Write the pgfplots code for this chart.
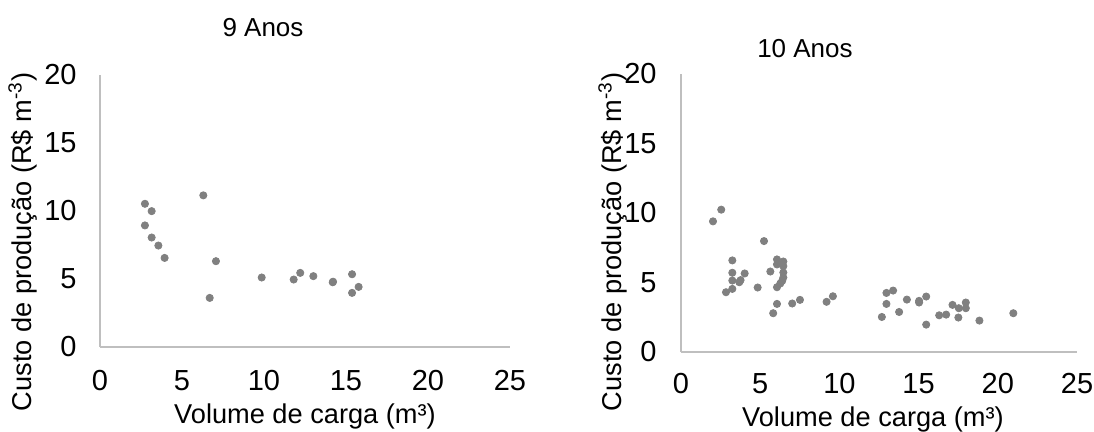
\documentclass[border=0pt]{standalone}
\usepackage{fontspec}
\setmainfont{Liberation Sans}
\usepackage{pgfplots}
\pgfplotsset{compat=1.18}
\definecolor{axgray}{RGB}{191,191,191}
\definecolor{ptgray}{RGB}{128,128,128}
\newcommand{\ff}{\fontsize{13bp}{15bp}\selectfont}
\newcommand{\lf}{\fontsize{13.6bp}{15bp}\selectfont}
\newcommand{\tf}{\fontsize{14.5bp}{16bp}\selectfont}
\pgfplotsset{
  myscatter/.style={
    scale only axis,
    axis lines*=left,
    axis line style={axgray, line width=0.75bp},
    xmin=0, xmax=25, ymin=0, ymax=20,
    xtick={0,5,10,15,20,25},
    ytick={0,5,10,15,20},
    major tick length=0pt,
    /pgf/number format/assume math mode=true,
    tick label style={font=\tf, black},
    label style={font=\lf},
    title style={font=\ff},
    clip=false,
  },
  pts/.style={only marks, mark=*, mark size=1.8bp, color=ptgray, mark options={draw=ptgray, fill=ptgray}},
}
\begin{document}
\begin{tikzpicture}
\useasboundingbox (-50bp,-42.5bp) rectangle (497bp,173.5bp);
\begin{axis}[myscatter,
  at={(0bp,0bp)}, anchor=south west,
  width=205bp, height=136bp,
  yticklabel style={anchor=east, inner sep=0pt, xshift=-11.5bp},
  xticklabel style={anchor=north, inner sep=0pt, yshift=-11.5bp},
  xlabel={Volume de carga (m³)},
  ylabel={Custo de produção (R\$ m\textsuperscript{-3})},
  xlabel style={at={(rel axis cs:0.5,-0.2537)}, anchor=center},
  ylabel style={at={(rel axis cs:-0.1878,0.386)}, anchor=center},
  title={9 Anos},
  title style={at={(rel axis cs:0.3976,1.176)}, anchor=center, yshift=-6pt},
]
\addplot[pts] coordinates {
(2.74,10.53) (3.15,9.99) (2.74,8.94) (3.15,8.05) (3.56,7.46) (3.94,6.55)
(6.30,11.15) (7.07,6.31) (6.69,3.61) (9.86,5.11) (11.81,4.96) (12.21,5.45)
(13.01,5.21) (14.19,4.76) (14.21,4.80) (15.37,5.35) (15.77,4.42) (15.37,3.98)
};
\end{axis}
\begin{axis}[myscatter,
  at={(290.5bp,-2.5bp)}, anchor=south west,
  width=198bp, height=139bp,
  yticklabel style={anchor=east, inner sep=0pt, xshift=-12bp},
  xticklabel style={anchor=north, inner sep=0pt, yshift=-10.5bp},
  xlabel={Volume de carga (m³)},
  ylabel={Custo de produção (R\$ m\textsuperscript{-3})},
  xlabel style={at={(rel axis cs:0.4848,-0.241)}, anchor=center},
  ylabel style={at={(rel axis cs:-0.1717,0.3957)}, anchor=center},
  title={10 Anos},
  title style={at={(rel axis cs:0.313,1.090)}, anchor=center, yshift=-6pt},
]
\addplot[pts] coordinates {
(2.02,9.40) (2.54,10.24) (5.24,7.98) (3.24,6.59) (3.24,5.70) (3.24,5.14)
(3.24,4.54) (2.84,4.30) (3.68,5.02) (3.76,5.17) (4.02,5.65) (4.84,4.64)
(5.64,5.79) (6.06,6.66) (6.06,6.30) (6.46,6.51) (6.46,6.18) (6.46,5.72)
(6.46,5.36) (6.39,5.12) (6.27,4.93) (6.06,4.66) (6.06,3.46) (5.82,2.79)
(7.02,3.49) (7.51,3.75) (9.19,3.61) (9.59,4.01) (12.68,2.52) (12.97,4.25)
(12.97,3.46) (13.39,4.42) (13.77,2.88) (14.26,3.77) (15.03,3.68) (15.03,3.56)
(15.48,3.99) (15.48,1.97) (16.30,2.64) (16.74,2.69) (17.14,3.39) (17.54,3.15)
(17.51,2.48) (17.98,3.56) (17.98,3.15) (18.84,2.26) (20.98,2.79)
};
\end{axis}
\end{tikzpicture}
\end{document}
